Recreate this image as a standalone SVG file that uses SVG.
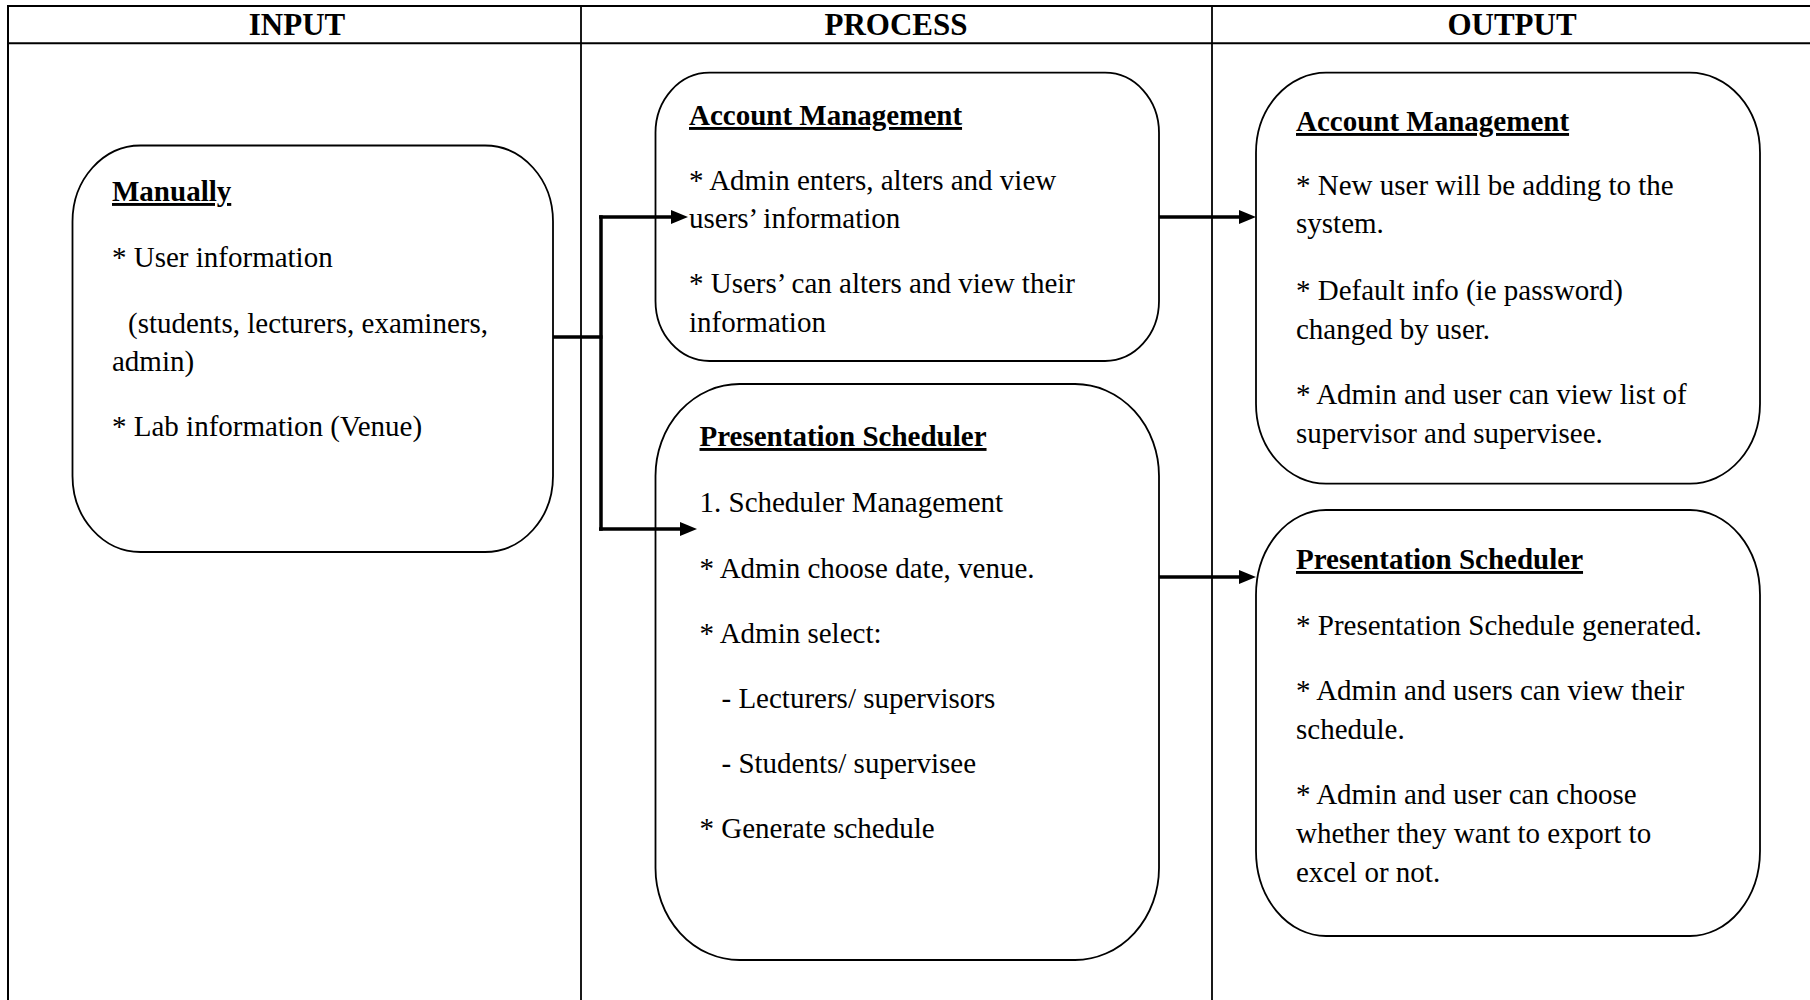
<svg xmlns="http://www.w3.org/2000/svg" width="1810" height="1000" viewBox="0 0 1810 1000">
  <style>
    .grid { stroke: #000; stroke-width: 2; fill: none; }
    .col { stroke: #000; stroke-width: 1.8; fill: none; }
    .box { fill: #fff; stroke: #000; stroke-width: 1.8; }
    .hdr { font-family: "Liberation Serif", "Times New Roman", serif; font-size: 31px; font-weight: bold; text-anchor: middle; fill: #000; }
    .t { font-family: "Liberation Serif", "Times New Roman", serif; font-size: 29px; fill: #000; }
    .ttl { font-family: "Liberation Serif", "Times New Roman", serif; font-size: 29px; font-weight: bold; text-decoration: underline; fill: #000; }
    .conn { stroke: #000; stroke-width: 3.5; fill: none; }
  </style>
  <defs>
    <marker id="arrow" markerUnits="userSpaceOnUse" markerWidth="18" markerHeight="14" refX="6" refY="7" orient="auto">
      <path d="M0,0 L17,7 L0,14 z" fill="#000"/>
    </marker>
  </defs>
  <rect x="0" y="0" width="1810" height="1000" fill="#fff"/>

  <g id="table">
    <line class="grid" x1="8" y1="6" x2="1810" y2="6"/>
    <line class="grid" x1="8" y1="43.3" x2="1810" y2="43.3"/>
    <line class="grid" x1="8" y1="5" x2="8" y2="1000"/>
    <line class="col" x1="581" y1="6" x2="581" y2="1000"/>
    <line class="col" x1="1212" y1="6" x2="1212" y2="1000"/>
    <text class="hdr" x="297" y="35">INPUT</text>
    <text class="hdr" x="896" y="35">PROCESS</text>
    <text class="hdr" x="1512" y="35">OUTPUT</text>
  </g>

  <g id="input-manually">
    <rect class="box" x="72.5" y="145.5" width="480.5" height="406.5" rx="68" ry="76"/>
    <text class="ttl" x="112" y="201">Manually</text>
    <text class="t" x="112" y="267">* User information</text>
    <text class="t" x="128" y="333">(students, lecturers, examiners,</text>
    <text class="t" x="112" y="371">admin)</text>
    <text class="t" x="112" y="436">* Lab information (Venue)</text>
  </g>

  <g id="process-account">
    <rect class="box" x="655.5" y="72.7" width="503.5" height="288.3" rx="54" ry="60"/>
    <text class="ttl" x="689" y="125">Account Management</text>
    <text class="t" x="689" y="190">* Admin enters, alters and view</text>
    <text class="t" x="689" y="228">users’ information</text>
    <text class="t" x="689" y="293">* Users’ can alters and view their</text>
    <text class="t" x="689" y="332">information</text>
  </g>

  <g id="process-scheduler">
    <rect class="box" x="655.5" y="384" width="503.5" height="576" rx="84" ry="92"/>
    <text class="ttl" x="699.5" y="446">Presentation Scheduler</text>
    <text class="t" x="699.5" y="512">1. Scheduler Management</text>
    <text class="t" x="699.5" y="578">* Admin choose date, venue.</text>
    <text class="t" x="699.5" y="643">* Admin select:</text>
    <text class="t" x="721.5" y="708">- Lecturers/ supervisors</text>
    <text class="t" x="721.5" y="773">- Students/ supervisee</text>
    <text class="t" x="699.5" y="838">* Generate schedule</text>
  </g>

  <g id="output-account">
    <rect class="box" x="1256" y="72.7" width="504" height="411" rx="70" ry="80"/>
    <text class="ttl" x="1296" y="131">Account Management</text>
    <text class="t" x="1296" y="195">* New user will be adding to the</text>
    <text class="t" x="1296" y="233">system.</text>
    <text class="t" x="1296" y="300">* Default info (ie password)</text>
    <text class="t" x="1296" y="339">changed by user.</text>
    <text class="t" x="1296" y="404">* Admin and user can view list of</text>
    <text class="t" x="1296" y="443">supervisor and supervisee.</text>
  </g>

  <g id="output-scheduler">
    <rect class="box" x="1256" y="510" width="504" height="426" rx="70" ry="85"/>
    <text class="ttl" x="1296" y="569">Presentation Scheduler</text>
    <text class="t" x="1296" y="635">* Presentation Schedule generated.</text>
    <text class="t" x="1296" y="700">* Admin and users can view their</text>
    <text class="t" x="1296" y="739">schedule.</text>
    <text class="t" x="1296" y="804">* Admin and user can choose</text>
    <text class="t" x="1296" y="843">whether they want to export to</text>
    <text class="t" x="1296" y="882">excel or not.</text>
  </g>

  <g id="connectors">
    <line class="conn" x1="553" y1="337" x2="602.5" y2="337" stroke-width="3"/>
    <line class="conn" x1="601" y1="215.3" x2="601" y2="530.7" stroke-width="4"/>
    <line class="conn" x1="599" y1="217" x2="677" y2="217" marker-end="url(#arrow)"/>
    <line class="conn" x1="599" y1="529" x2="686" y2="529" marker-end="url(#arrow)"/>
    <line class="conn" x1="1159" y1="217" x2="1245" y2="217" marker-end="url(#arrow)"/>
    <line class="conn" x1="1159" y1="577" x2="1245" y2="577" marker-end="url(#arrow)"/>
  </g>
</svg>
